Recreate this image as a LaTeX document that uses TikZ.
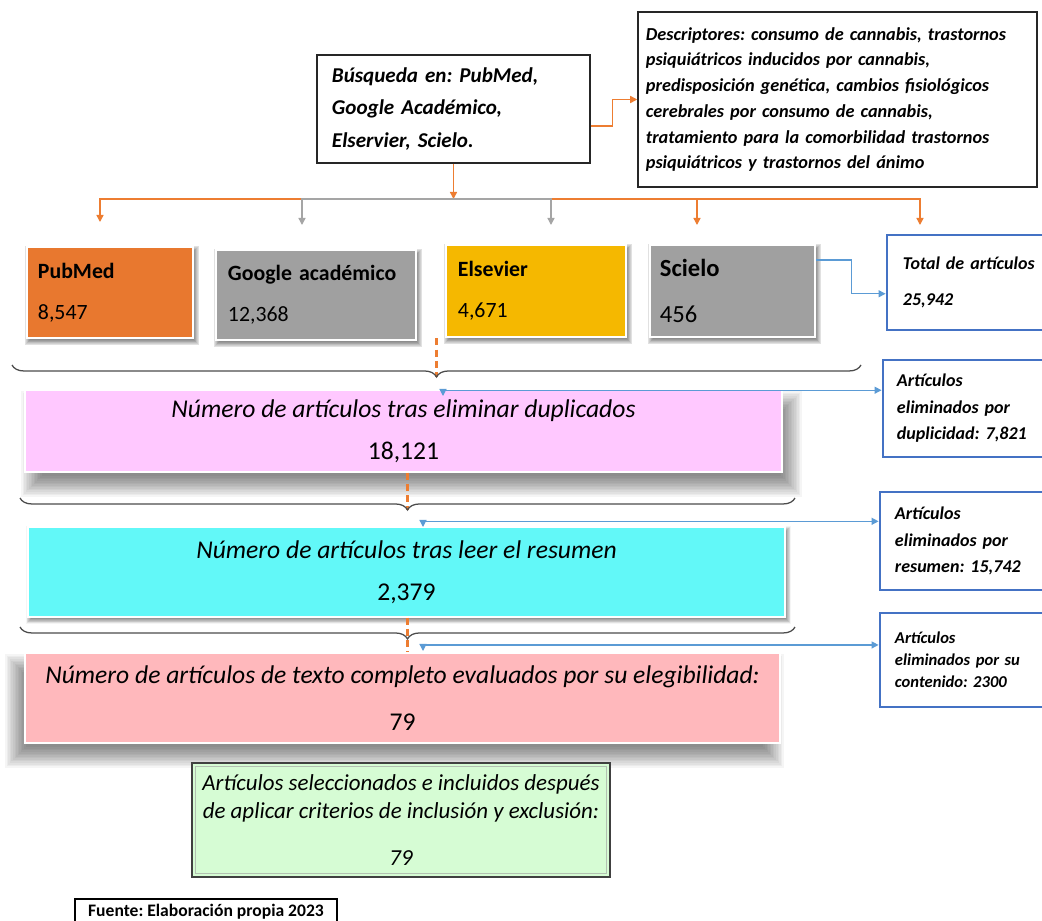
\documentclass[tikz,border=0pt]{standalone}
\usepackage{fontspec}
\setmainfont{Carlito}
\frenchspacing
\usetikzlibrary{arrows.meta,decorations.pathreplacing,backgrounds}

\definecolor{pubor}{HTML}{E8782F}
\definecolor{dbgray}{HTML}{A0A0A0}
\definecolor{elsgold}{HTML}{F5B800}
\definecolor{duppink}{HTML}{FFC8FF}
\definecolor{rescyan}{HTML}{62F8F8}
\definecolor{elegrose}{HTML}{FFB8BC}
\definecolor{selgreen}{HTML}{D6FCD4}
\definecolor{noteblue}{HTML}{4472C4}
\definecolor{arrblue}{HTML}{5B9BD5}
\definecolor{lineor}{HTML}{ED7D31}
\definecolor{linegray}{HTML}{A5A5A5}

\tikzset{
    linebox/.style={draw=black!85, line width=1pt, fill=white, align=left},
    notebox/.style={draw=noteblue, line width=2pt, fill=white, align=left, font=\fontsize{12.8}{18.8}\selectfont\bfseries\itshape},
    dbbox/.style={fill=#1, draw=white, line width=2pt, align=left, font=\fontsize{15.5}{29}\selectfont},
    stagebox/.style={fill=#1, draw=white, line width=1pt, align=center, font=\fontsize{18.2}{30}\selectfont},
    orline/.style={draw=lineor, line width=1pt, -{Triangle[length=5pt,width=5pt]}},
    grline/.style={draw=linegray, line width=1pt, -{Triangle[length=5pt,width=5pt]}},
    blline/.style={draw=arrblue, line width=0.9pt, -{Triangle[length=5pt,width=5pt]}},
    elimarrow/.style={draw=arrblue, line width=0.9pt, {Triangle[length=5pt,width=5pt]}-{Triangle[length=5pt,width=5pt]}},
    passline/.style={draw=lineor, line width=1.5pt, dash pattern=on 5pt off 3pt},
    brc/.style={decorate, decoration={brace, mirror, amplitude=8.5pt}, draw=black!70, line width=0.9pt}
}

\begin{document}
\begin{tikzpicture}[x=0.025cm, y=-0.025cm]
    \useasboundingbox (0,0) rectangle (1042,921);

    % busqueda y descriptores
    \node[linebox, minimum width=6.825cm, minimum height=2.7cm, text width=6.075cm, inner xsep=0.375cm,
        font=\fontsize{15}{23}\selectfont\bfseries\itshape] (busq) at (453.5,109)
        {Búsqueda en: PubMed,\\ Google Académico,\\ Elservier, Scielo.};
    \node[linebox, minimum width=9.975cm, minimum height=4.375cm, text width=9.575cm, inner xsep=0.2cm,
        font=\fontsize{13}{18.3}\selectfont\bfseries\itshape] (desc) at (837.5,99.5)
        {Descriptores: consumo de cannabis, trastornos\\ psiquiátricos inducidos por cannabis,\\
        predisposición genética, cambios fisiológicos\\ cerebrales por consumo de cannabis,\\
        tratamiento para la comorbilidad trastornos\\ psiquiátricos y trastornos del ánimo\\[4pt]};

    % bases de datos
    \node[dbbox=pubor, minimum width=4.15cm, minimum height=2.275cm, text width=3.6cm, inner xsep=0.275cm] (pubmed) at (110,292.5)
        {\textbf{PubMed}\\ 8,547};
    \node[dbbox=dbgray, minimum width=5cm, minimum height=2.25cm, text width=4.4cm, inner xsep=0.3cm] (google) at (316,295)
        {\textbf{Google académico}\\ 12,368};
    \node[dbbox=elsgold, minimum width=4.5cm, minimum height=2.3cm, text width=3.9cm, inner xsep=0.3cm] (elsevier) at (536,291)
        {\textbf{Elsevier}\\ 4,671};
    \node[dbbox=dbgray, minimum width=4.125cm, minimum height=2.3cm, text width=3.625cm, inner xsep=0.25cm,
        font=\fontsize{17.5}{33}\selectfont] (scielo) at (732.5,291)
        {\textbf{Scielo}\\ 456};
    \node[notebox, minimum width=4.325cm, minimum height=2.375cm, text width=3.525cm, inner xsep=0.4cm,
        font=\fontsize{12.8}{26}\selectfont\bfseries\itshape] (total) at (973.5,282.5)
        {Total de artículos\\ 25,942};

    % etapas
    \node[stagebox=duppink, minimum width=18.925cm, minimum height=2.05cm] (dup) at (403.5,431)
        {\textit{Número de artículos tras eliminar duplicados}\\ 18,121};
    \node[stagebox=rescyan, minimum width=18.925cm, minimum height=2.25cm] (res) at (406.5,572)
        {\textit{Número de artículos tras leer el resumen}\\ 2,379};
    \node[stagebox=elegrose, minimum width=18.875cm, minimum height=2.25cm, font=\fontsize{18.2}{33}\selectfont] (eleg) at (402.5,698)
        {\textit{Número de artículos de texto completo evaluados por su elegibilidad:}\\ 79};
    \node[fill=selgreen, draw=black!75, line width=1.5pt, minimum width=10.45cm, minimum height=2.85cm, align=center,
        font=\fontsize{16.3}{19.5}\selectfont\itshape] (sel) at (401,820)
        {Artículos seleccionados e incluidos después\\ de aplicar criterios de inclusión y exclusión:\\[14pt] 79};
    \draw[draw=selgreen!60!black!60, line width=0.8pt] ([shift={(5,5)}]sel.north west) rectangle ([shift={(-5,-5)}]sel.south east);

    % eliminados
    \node[notebox, minimum width=4.425cm, minimum height=2.425cm, text width=3.725cm, inner xsep=0.35cm] (elim1) at (971.5,408.5)
        {Artículos\\ eliminados por\\ duplicidad: 7,821};
    \node[notebox, minimum width=4.5cm, minimum height=2.45cm, text width=3.75cm, inner xsep=0.375cm] (elim2) at (970,541)
        {Artículos\\ eliminados por\\ resumen: 15,742};
    \node[notebox, minimum width=4.5cm, minimum height=2.35cm, text width=3.75cm, inner xsep=0.375cm,
        font=\fontsize{11.8}{15.8}\selectfont\bfseries\itshape] (elim3) at (970,660)
        {Artículos\\ eliminados por su\\ contenido: 2300\\[6pt]};

    \node[draw=black, line width=0.8pt, fill=white, minimum width=6.55cm, minimum height=0.65cm,
        font=\fontsize{12.5}{13}\selectfont\bfseries] (fuente) at (206,912) {Fuente: Elaboración propia 2023};

    % sombras
    \begin{scope}[on background layer]
        \fill[white] (0,0) rectangle (1042,921);
        \foreach \n/\dx/\dy/\s in {dup/8/13/11, eleg/-8/13/11, res/2/3/3, pubmed/2/3/3, google/2/3/3, elsevier/2/3/3, scielo/2/3/3}
            \foreach \k in {0,...,13}{
                \pgfmathsetmacro{\r}{\s-\k*2*\s/14}
                \fill[black, opacity=0.038] ([shift={({\dx-(\r)},{\dy-(\r)})}]\n.north west)
                    rectangle ([shift={({\dx+(\r)},{\dy+(\r)})}]\n.south east);
            }
    \end{scope}

    % conectores de arriba
    \coordinate (bus) at (453.5,199);
    \coordinate (t1) at (100,222);
    \coordinate (t2) at (302,225);
    \coordinate (t3) at (551,225);
    \coordinate (t4) at (697,225);
    \coordinate (t5) at (920,225);
    \draw[orline] ([yshift=-12pt]busq.east) -- ++(22,0) |- (desc.west);
    \draw[orline] (busq.south) -- (bus);
    \draw[orline] (bus) -| (t1);
    \draw[orline] (bus) -| (t5);
    \draw[orline] (bus) -| (t4);
    \draw[grline] (bus) -| (t2);
    \draw[grline] (bus) -| (t3);
    \draw[blline] ([yshift=22pt]scielo.east) -- ++(35,0) |- ([yshift=-8pt]total.west);

    % llaves
    \coordinate (b1) at (436.5,377);
    \coordinate (b2) at (407.5,510);
    \coordinate (b3) at (407.5,639);
    \draw[passline] (b1 |- elsevier.south) -- (b1);
    \draw[passline] (b2 |- dup.south) -- (b2);
    \draw[passline] (b3 |- res.south) -- (b3 |- eleg.north);
    \draw[brc] (12,365) -- (861,365);
    \draw[brc] (20,498) -- (795,498);
    \draw[brc] (20,627) -- (795,627);

    % eliminados por etapa
    \coordinate (a1) at (443,396);
    \coordinate (a2) at (423,527);
    \coordinate (a3) at (423,651);
    \draw[elimarrow] (a1) |- ([yshift=13pt]elim1.west);
    \draw[elimarrow] (a2) |- ([yshift=14pt]elim2.west);
    \draw[elimarrow] (a3) |- ([yshift=10.7pt]elim3.west);
\end{tikzpicture}
\end{document}
